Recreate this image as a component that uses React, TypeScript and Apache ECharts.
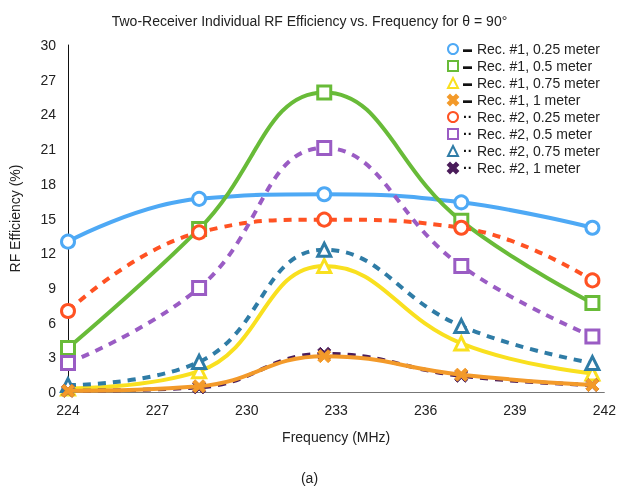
import React, { useEffect, useRef } from "react";
import * as echarts from "echarts";

const frequencies = [224, 228.4, 232.6, 237.2, 241.6];

const rec1_025 = [13.0, 16.7, 17.1, 16.4, 14.2];
const rec1_05 = [3.8, 14.1, 25.9, 14.8, 7.7];
const rec1_075 = [0.3, 1.8, 10.9, 4.2, 1.6];
const rec1_1 = [0.1, 0.5, 3.1, 1.5, 0.6];
const rec2_025 = [7.0, 13.8, 14.9, 14.2, 9.65];
const rec2_05 = [2.5, 9.0, 21.1, 10.9, 4.8];
const rec2_075 = [0.6, 2.6, 12.3, 5.7, 2.5];
const rec2_1 = [0.1, 0.4, 3.3, 1.4, 0.6];

const seriesNames = [
  "Rec. #1, 0.25 meter",
  "Rec. #1, 0.5 meter",
  "Rec. #1, 0.75 meter",
  "Rec. #1, 1 meter",
  "Rec. #2, 0.25 meter",
  "Rec. #2, 0.5 meter",
  "Rec. #2, 0.75 meter",
  "Rec. #2, 1 meter",
];

const X_PATH =
  "path://M2,0 L5,3 L8,0 L10,2 L7,5 L10,8 L8,10 L5,7 L2,10 L0,8 L3,5 L0,2 Z";

const FONT = "Liberation Sans, Arial, Helvetica, sans-serif";

export default function App() {
  const ref = useRef<HTMLDivElement>(null);

  useEffect(() => {
    if (!ref.current) return;
    const chart = echarts.init(ref.current, undefined, { renderer: "svg" });

    const defs = [
      { data: rec1_025, color: "#4ea9f5", symbol: "circle", dashed: false },
      { data: rec1_05, color: "#68bb38", symbol: "rect", dashed: false },
      { data: rec1_075, color: "#f9e01f", symbol: "triangle", dashed: false },
      { data: rec1_1, color: "#f39a2a", symbol: X_PATH, dashed: false },
      { data: rec2_025, color: "#ff5223", symbol: "circle", dashed: true },
      { data: rec2_05, color: "#9a5cc4", symbol: "rect", dashed: true },
      { data: rec2_075, color: "#2f7ca6", symbol: "triangle", dashed: true },
      { data: rec2_1, color: "#4a1c5a", symbol: X_PATH, dashed: true },
    ];

    const series = defs.map((d, i) => {
      const isX = d.symbol === X_PATH;
      return {
        name: seriesNames[i],
        type: "line",
        smooth: 0.45,
        data: frequencies.map((f, k) => [f, d.data[k]]),
        symbol: d.symbol,
        symbolSize: 13,
        z: i === 3 ? 5 : 2,
        lineStyle: {
          color: d.color,
          width: 4,
          type: d.dashed ? [8, 7] : "solid",
          cap: "butt",
        },
        itemStyle: {
          color: isX ? d.color : "#ffffff",
          borderColor: d.color,
          borderWidth: isX ? 1 : 3,
        },
      };
    });

    const option = {
      animation: false,
      textStyle: { fontFamily: FONT },
      title: {
        text: "Two-Receiver Individual RF Efficiency vs. Frequency for θ = 90°",
        left: "center",
        top: 9,
        textStyle: {
          fontFamily: FONT,
          fontSize: 14,
          fontWeight: "normal",
          color: "#222",
        },
      },
      legend: {
        orient: "vertical",
        left: 442,
        top: 37,
        itemWidth: 10,
        itemHeight: 10,
        itemGap: 3,
        itemStyle: { borderWidth: 2 },
        data: seriesNames.map((n, i) => ({
          name: n,
          icon: defs[i].symbol,
        })),
        formatter: (name: string) => {
          const idx = seriesNames.indexOf(name);
          return (defs[idx].dashed ? "{d|··}" : "{s|▬}") + " " + name;
        },
        textStyle: {
          fontFamily: FONT,
          fontSize: 14,
          color: "#222",
          lineHeight: 14,
          rich: {
            s: { fontSize: 9, color: "#111", fontWeight: "bold", width: 10 },
            d: { fontSize: 14, color: "#111", fontWeight: "bold", width: 10 },
          },
        },
      },
      grid: { left: 68, right: 13, top: 45, bottom: 99 },
      xAxis: {
        type: "value",
        min: 224,
        max: 242,
        interval: 3,
        name: "Frequency (MHz)",
        nameLocation: "middle",
        nameGap: 38,
        nameTextStyle: { fontFamily: FONT, fontSize: 14, color: "#222" },
        axisLine: { lineStyle: { color: "#777", width: 1 } },
        axisTick: { show: false },
        splitLine: { show: false },
        axisLabel: { fontFamily: FONT, fontSize: 14, color: "#222", margin: 11 },
      },
      yAxis: {
        type: "value",
        min: 0,
        max: 30,
        interval: 3,
        name: "RF Efficiency (%)",
        nameLocation: "middle",
        nameGap: 46,
        nameTextStyle: { fontFamily: FONT, fontSize: 14, color: "#222" },
        axisLine: { show: true, lineStyle: { color: "#111", width: 1 } },
        axisTick: { show: false },
        splitLine: { show: false },
        axisLabel: { fontFamily: FONT, fontSize: 14, color: "#222", margin: 12 },
      },
      graphic: [
        {
          type: "text",
          left: "center",
          top: 471,
          style: { text: "(a)", font: `14px ${FONT}`, fill: "#222" },
        },
      ],
      series,
    };

    chart.setOption(option as any);
    return () => chart.dispose();
  }, []);

  return (
    <div
      ref={ref}
      style={{ position: "fixed", left: 0, top: 0, width: 619, height: 491 }}
    />
  );
}
